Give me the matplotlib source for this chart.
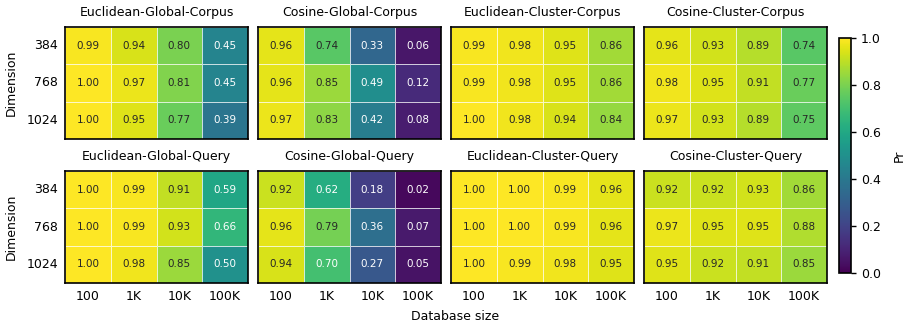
import matplotlib
matplotlib.use('Agg')
import matplotlib.pyplot as plt
import numpy as np
import seaborn as sns

dims = ['384', '768', '1024']
sizes = ['100', '1K', '10K', '100K']

titles = ['Euclidean-Global-Corpus', 'Cosine-Global-Corpus',
          'Euclidean-Cluster-Corpus', 'Cosine-Cluster-Corpus',
          'Euclidean-Global-Query', 'Cosine-Global-Query',
          'Euclidean-Cluster-Query', 'Cosine-Cluster-Query']

euc_global_corpus = [[0.99, 0.94, 0.80, 0.45],
                     [1.00, 0.97, 0.81, 0.45],
                     [1.00, 0.95, 0.77, 0.39]]
cos_global_corpus = [[0.96, 0.74, 0.33, 0.06],
                     [0.96, 0.85, 0.49, 0.12],
                     [0.97, 0.83, 0.42, 0.08]]
euc_cluster_corpus = [[0.99, 0.98, 0.95, 0.86],
                      [0.99, 0.98, 0.95, 0.86],
                      [1.00, 0.98, 0.94, 0.84]]
cos_cluster_corpus = [[0.96, 0.93, 0.89, 0.74],
                      [0.98, 0.95, 0.91, 0.77],
                      [0.97, 0.93, 0.89, 0.75]]
euc_global_query = [[1.00, 0.99, 0.91, 0.59],
                    [1.00, 0.99, 0.93, 0.66],
                    [1.00, 0.98, 0.85, 0.50]]
cos_global_query = [[0.92, 0.62, 0.18, 0.02],
                    [0.96, 0.79, 0.36, 0.07],
                    [0.94, 0.70, 0.27, 0.05]]
euc_cluster_query = [[1.00, 1.00, 0.99, 0.96],
                     [1.00, 1.00, 0.99, 0.96],
                     [1.00, 0.99, 0.98, 0.95]]
cos_cluster_query = [[0.92, 0.92, 0.93, 0.86],
                     [0.97, 0.95, 0.95, 0.88],
                     [0.95, 0.92, 0.91, 0.85]]

panels = [euc_global_corpus, cos_global_corpus, euc_cluster_corpus, cos_cluster_corpus,
          euc_global_query, cos_global_query, euc_cluster_query, cos_cluster_query]

W, H = 907, 329
fig = plt.figure(figsize=(W / 100, H / 100), dpi=100)

# pixel layout of panels
xs = [65, 258, 451, 644]
ys = [27, 171]
pw, ph = 183, 112

for i, (data, title) in enumerate(zip(panels, titles)):
    r, c = divmod(i, 4)
    ax = fig.add_axes([xs[c] / W, 1 - (ys[r] + ph) / H, pw / W, ph / H])
    sns.heatmap(np.array(data), ax=ax, cmap='viridis', vmin=0, vmax=1,
                annot=True, fmt='.2f', annot_kws={'fontsize': 7.5},
                linewidths=0.5, linecolor=(1, 1, 1, 0.75), cbar=False,
                xticklabels=sizes if r == 1 else False,
                yticklabels=dims if c == 0 else False)
    ax.set_title(title, fontsize=9, pad=8)
    ax.tick_params(length=0, labelsize=9, pad=5)
    ax.tick_params(axis='y', rotation=0)
    for s in ax.spines.values():
        s.set_visible(True)
        s.set_linewidth(1.2)
        s.set_color('black')
    if c == 0:
        ax.set_ylabel('Dimension', fontsize=9, labelpad=6)

cax = fig.add_axes([839 / W, 1 - 273 / H, 12 / W, 235 / H])
sm = plt.cm.ScalarMappable(cmap='viridis', norm=plt.Normalize(0, 1))
cb = fig.colorbar(sm, cax=cax)
cb.set_ticks([0.0, 0.2, 0.4, 0.6, 0.8, 1.0])
cb.ax.tick_params(labelsize=9, length=3.5, width=1)
cb.outline.set_linewidth(1.2)
cb.set_label('Pr', fontsize=9, labelpad=9)

fig.text(455 / W, 1 - 317 / H, 'Database size', ha='center', va='center', fontsize=9)

fig.savefig('out.png', dpi=100)
